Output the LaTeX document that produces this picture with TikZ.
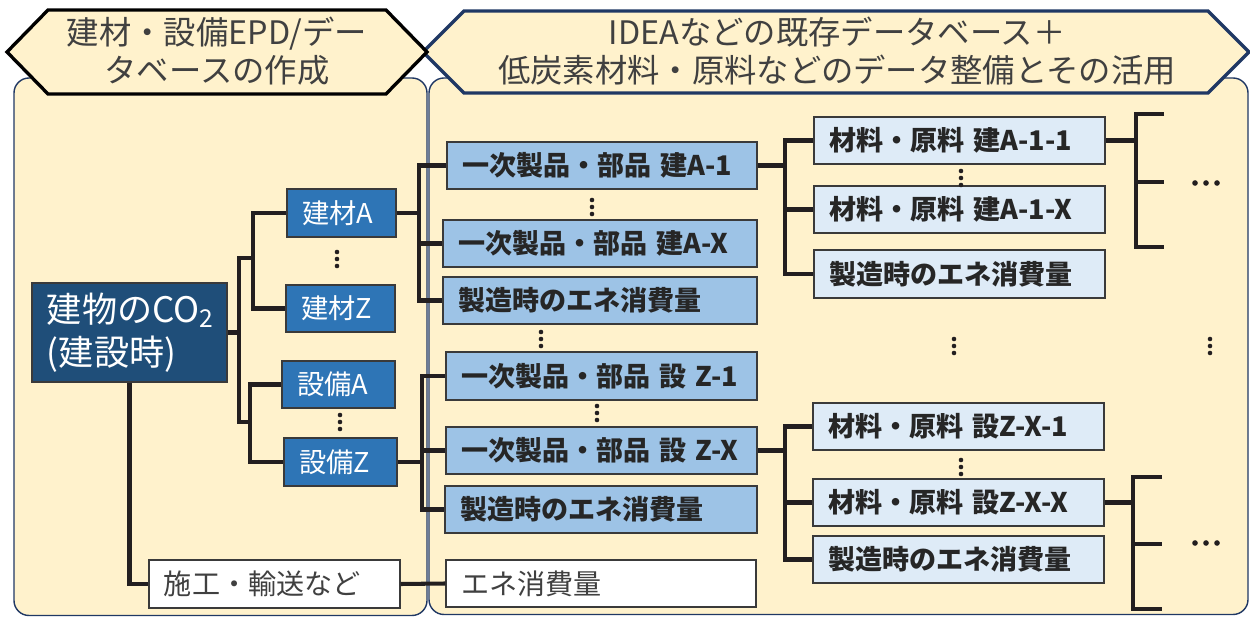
\documentclass[tikz,border=0pt]{standalone}
\usepackage{fontspec}
\setmainfont{Noto Sans CJK JP}
\usetikzlibrary{calc}
\definecolor{cream}{HTML}{FFF2CC}
\definecolor{navy}{HTML}{203864}
\definecolor{darkbox}{HTML}{1F4E79}
\definecolor{midbox}{HTML}{2E75B6}
\definecolor{lightbox}{HTML}{9DC3E6}
\definecolor{paleblue}{HTML}{DEEBF7}
\definecolor{boxedge}{HTML}{3A3A3A}
\definecolor{lineblack}{HTML}{231F20}
\definecolor{txtgray}{HTML}{404040}
\definecolor{txtdark}{HTML}{262626}
\begin{document}
\begin{tikzpicture}[x=0.02cm,y=-0.02cm,
  conn/.style={draw=lineblack, line width=2.3pt, line join=miter},
  bx/.style 2 args={minimum width=#1*0.02cm, minimum height=#2*0.02cm,
    text width=#1*0.02cm-0.6cm, align=left, inner sep=0pt,
    draw=boxedge, line width=0.7pt},
  panel/.style={fill=cream, draw=navy, line width=0.8pt, rounded corners=0.3cm},
  hdr/.style={fill=cream, line width=1.9pt, line join=miter},
  hdrtext/.style={align=center, text=txtgray, inner sep=0pt,
    font=\fontsize{18.4}{22}\selectfont},
  mainbox/.style={fill=darkbox, text=white, font=\fontsize{20}{24.4}\selectfont},
  matbox/.style={fill=midbox, text=white, font=\fontsize{15.5}{18}\selectfont},
  primbox/.style={fill=lightbox, text=txtdark, font=\fontsize{15.4}{18}\selectfont\bfseries},
  rawbox/.style={fill=paleblue, text=txtdark, font=\fontsize{15.4}{18}\selectfont\bfseries},
  whitebox/.style={fill=white, text=txtgray, font=\fontsize{16}{19}\selectfont},
  dotc/.style={fill=lineblack}
]
\useasboundingbox (0,0) rectangle (1250,617);
\fill[white] (0,0) rectangle (1250,617);

% panels
\draw[panel] (14,78) rectangle (427,615.5);
\draw[panel] (429,78) rectangle (1248,614.5);

% headers
\draw[hdr, draw=navy] (423,52) -- (464,11) -- (1208,11) -- (1249,52) -- (1208,93) -- (464,93) -- cycle;
\draw[hdr, draw=black] (7,52) -- (48,10) -- (386,10) -- (427,52) -- (386,94) -- (48,94) -- cycle;
\node[hdrtext] (hL) at (217,51) {建材・設備EPD/デー\\タベースの作成};
\node[hdrtext] (hR) at (837,51) {IDEAなどの既存データベース＋\\低炭素材料・原料などのデータ整備とその活用};

% left column nodes
\node[mainbox, bx={195}{99}] (main) at (129.5,332.5) {建物のCO\textsubscript{2}\\(建設時)};
\node[matbox, bx={109}{48}] (bA) at (341.5,213) {建材A};
\node[matbox, bx={109}{47}] (bZ) at (340.5,308.5) {建材Z};
\node[matbox, bx={113}{47}] (sA) at (338.5,384.5) {設備A};
\node[matbox, bx={113}{48}] (sZ) at (340.5,462) {設備Z};
\node[whitebox, bx={251}{48}] (sk) at (274.5,584) {施工・輸送など};

% middle column nodes
\node[primbox, bx={310}{47}] (pA1) at (602,165.5) {\mbox{一次製品・部品 建A-1}};
\node[primbox, bx={314}{47}] (pAX) at (600,243.5) {\mbox{一次製品・部品 建A-X}};
\node[primbox, bx={314}{47}] (pAE) at (600,300.5) {製造時のエネ消費量};
\node[primbox, bx={311}{48}] (pZ1) at (601.5,376) {\mbox{一次製品・部品 設 Z-1}};
\node[primbox, bx={311}{47}] (pZX) at (601.5,450.5) {\mbox{一次製品・部品 設 Z-X}};
\node[primbox, bx={312}{47}] (pZE) at (601,509.5) {製造時のエネ消費量};
\node[whitebox, bx={310}{47}] (ene) at (601,583.5) {エネ消費量};

% right column nodes
\node[rawbox, bx={291}{47}] (mA1) at (959.5,140.5) {\mbox{材料・原料 建A-1-1}};
\node[rawbox, bx={291}{47}] (mAX) at (959.5,209.5) {\mbox{材料・原料 建A-1-X}};
\node[rawbox, bx={291}{48}] (mAE) at (959.5,274) {製造時のエネ消費量};
\node[rawbox, bx={291}{47}] (mZ1) at (958.5,426.5) {\mbox{材料・原料 設Z-X-1}};
\node[rawbox, bx={291}{47}] (mZX) at (958.5,502.5) {\mbox{材料・原料 設Z-X-X}};
\node[rawbox, bx={291}{47}] (mZE) at (958.5,559.5) {製造時のエネ消費量};

% junction coordinates
\coordinate (fM) at (239,332.5);
\coordinate (fB) at (253,258);
\coordinate (fS) at (250,422);
\coordinate (jA) at (419,213);
\coordinate (jS) at (422,462);
\coordinate (jR1) at (785,165.5);
\coordinate (jR2) at (785,450.5);
\coordinate (kA) at (1136,182);
\coordinate (kZ) at (1133,544);
\coordinate (eA1) at (1164,114);
\coordinate (eA2) at (1164,182);
\coordinate (eA3) at (1164,247);
\coordinate (eZ1) at (1162,477);
\coordinate (eZ2) at (1162,544);
\coordinate (eZ3) at (1162,609);

% connectors: left
\draw[conn] (main.east) -- (fM);
\draw[conn] (fB) -| (fM) |- (fS);
\draw[conn] (bA.west) -| (fB) |- (bZ.west);
\draw[conn] (sA.west) -| (fS) |- (sZ.west);
\draw[conn] (main.south) |- (sk.west);
\draw[conn] (sk.east) -- (ene.west);

% connectors: middle
\draw[conn] (bA.east) -- (jA);
\draw[conn] (pA1.west) -| (jA) |- (pAE.west);
\draw[conn] (pAX.west) -- (pAX.west -| jA);
\draw[conn] (sZ.east) -- (jS);
\draw[conn] (pZ1.west) -| (jS) |- (pZE.west);
\draw[conn] (pZX.west) -- (pZX.west -| jS);

% connectors: right
\draw[conn] (pA1.east) -- (jR1);
\draw[conn] (mA1.west) -| (jR1) |- (mAE.west);
\draw[conn] (mAX.west) -- (mAX.west -| jR1);
\draw[conn] (pZX.east) -- (jR2);
\draw[conn] (mZ1.west) -| (jR2) |- (mZE.west);
\draw[conn] (mZX.west) -- (mZX.west -| jR2);

% connectors: far right
\draw[conn] (mA1.east) -- (mA1.east -| kA);
\draw[conn] (eA1) -| (kA) |- (eA3);
\draw[conn] (kA) -- (eA2);
\draw[conn] (mZX.east) -- (mZX.east -| kZ);
\draw[conn] (eZ1) -| (kZ) |- (eZ3);
\draw[conn] (kZ) -- (eZ2);

% vertical dots
\foreach \x/\y in {337/252, 340/415, 592/200, 541/332, 597/406, 961/171, 961/460, 954/339, 1210/339}{
  \foreach \d in {0,7,14}{
    \fill[dotc] (\x,\y+\d) circle[radius=1.3pt];
  }
}
% horizontal ellipses
\foreach \x/\y in {1195/183, 1195/543}{
  \foreach \d in {0,11,22}{
    \fill[dotc] (\x+\d,\y) circle[radius=1.6pt];
  }
}
\end{tikzpicture}
\end{document}
